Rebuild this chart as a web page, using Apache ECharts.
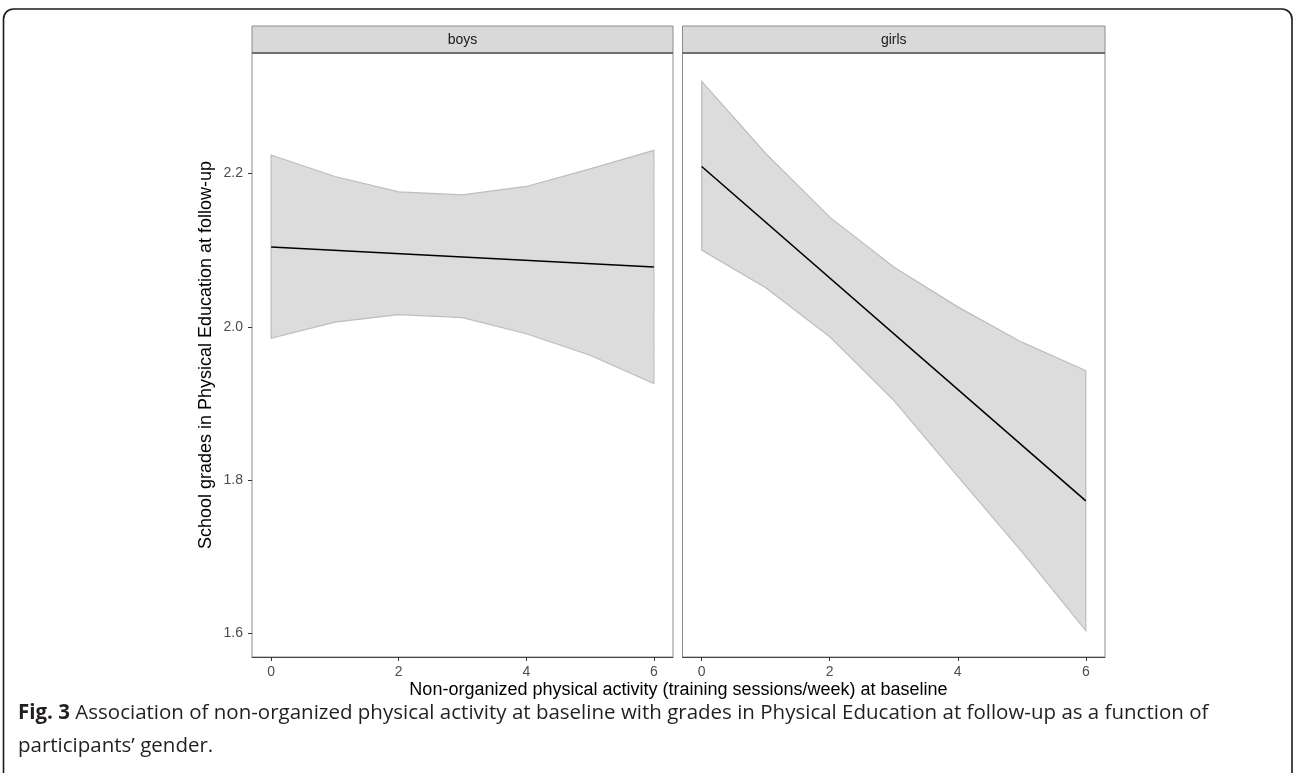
<!DOCTYPE html>
<html>
<head>
<meta charset="utf-8">
<script src="https://cdn.jsdelivr.net/npm/echarts@6/dist/echarts.min.js"></script>
<style>
html,body{margin:0;padding:0;background:#fff;}
#c{width:1296px;height:773px;}
</style>
</head>
<body>
<div id="c"></div>
<script>
// ---- data ----
const panels = ['boys', 'girls'];
const bandX = [0, 1, 2, 3, 4, 5, 6];
const boysUpper = [2.224, 2.196, 2.176, 2.172, 2.183, 2.206, 2.230];
const boysLower = [1.985, 2.006, 2.016, 2.012, 1.991, 1.963, 1.926];
const girlsUpper = [2.320, 2.226, 2.143, 2.078, 2.026, 1.980, 1.943];
const girlsLower = [2.100, 2.051, 1.987, 1.904, 1.805, 1.707, 1.604];
const lineX = [0, 6];
const boysLine = [2.104, 2.078];
const girlsLine = [2.209, 1.773];
const xTicks = [0, 2, 4, 6];
const yTicks = [1.6, 1.8, 2.0, 2.2];
const xTitle = 'Non-organized physical activity (training sessions/week) at baseline';
const yTitle = 'School grades in Physical Education at follow-up';
const captionBold = 'Fig. 3';
const captionRest = ' Association of non-organized physical activity at baseline with grades in Physical Education at follow-up as a function of';
const captionLine2 = 'participants\u2019 gender.';

// ---- layout ----
const gridTop = 53, gridBottomPx = 657;
const grids = [
  { left: 252, right: 673 },
  { left: 682.5, right: 1105 }
];
const FONT = '"Liberation Sans", Arial, sans-serif';
const CAPFONT = '"Open Sans", sans-serif';

const chart = echarts.init(document.getElementById('c'), null, { renderer: 'canvas' });

const gridOpts = grids.map(g => ({
  left: g.left, width: g.right - g.left, top: gridTop, height: gridBottomPx - gridTop,
  show: true, borderColor: '#8c8c8c', borderWidth: 1, backgroundColor: '#fff', containLabel: false
}));

const xAxes = grids.map((g, i) => ({
  type: 'value', gridIndex: i, min: -0.3, max: 6.3,
  splitLine: { show: false },
  axisLine: { show: true, onZero: false, lineStyle: { color: '#444', width: 1 } },
  axisTick: { show: true, customValues: xTicks, length: 4, lineStyle: { color: '#333' } },
  axisLabel: { show: true, customValues: xTicks, margin: 8, color: '#4d4d4d', fontSize: 14, fontFamily: FONT }
}));

const yAxes = grids.map((g, i) => ({
  type: 'value', gridIndex: i, min: 1.5695, max: 2.357, position: 'left',
  splitLine: { show: false },
  axisLine: { show: false, onZero: false },
  axisTick: { show: i === 0, customValues: yTicks, length: 4, lineStyle: { color: '#333' } },
  axisLabel: { show: i === 0, customValues: yTicks, margin: 9, color: '#4d4d4d', fontSize: 14, fontFamily: FONT,
    formatter: v => v.toFixed(1) }
}));

function bandSeries(idx, upper, lower) {
  return {
    type: 'custom', xAxisIndex: idx, yAxisIndex: idx, silent: true, z: 2,
    data: [[bandX[0], upper[0]]],
    renderItem: function (params, api) {
      const pts = [];
      for (let k = 0; k < bandX.length; k++) pts.push(api.coord([bandX[k], upper[k]]));
      for (let k = bandX.length - 1; k >= 0; k--) pts.push(api.coord([bandX[k], lower[k]]));
      return { type: 'polygon', shape: { points: pts },
        style: { fill: '#dcdcdc', stroke: '#bdbdbd', lineWidth: 1.2 } };
    }
  };
}
function lineSeries(idx, vals) {
  return {
    type: 'line', xAxisIndex: idx, yAxisIndex: idx, z: 3, silent: true,
    data: lineX.map((x, k) => [x, vals[k]]),
    showSymbol: false, symbol: 'none',
    lineStyle: { color: '#000', width: 1.6 }
  };
}

const graphics = [];
graphics.push({ type: 'rect', shape: { x: 3.5, y: 9, width: 1288.5, height: 790, r: 10 },
  style: { fill: 'none', stroke: '#1a1a1a', lineWidth: 1.6 }, z: 0, silent: true });
grids.forEach((g, i) => {
  graphics.push({ type: 'rect', shape: { x: g.left, y: 26, width: g.right - g.left, height: gridTop - 26 },
    style: { fill: '#d9d9d9', stroke: '#8c8c8c', lineWidth: 1 }, z: 10 });
  graphics.push({ type: 'line', shape: { x1: g.left, y1: gridTop, x2: g.right, y2: gridTop },
    style: { stroke: '#333', lineWidth: 1 }, z: 11 });
  graphics.push({ type: 'text', x: (g.left + g.right) / 2, y: (26 + gridTop) / 2 + 1,
    style: { text: panels[i], fill: '#1a1a1a', font: '14px ' + FONT, textAlign: 'center', textVerticalAlign: 'middle' }, z: 12 });
});
graphics.push({ type: 'text', x: (grids[0].left + grids[1].right) / 2, y: 690,
  style: { text: xTitle, fill: '#000', font: '18px ' + FONT, textAlign: 'center', textVerticalAlign: 'middle' }, z: 12 });
graphics.push({ type: 'text', x: 206, y: (gridTop + gridBottomPx) / 2, rotation: Math.PI / 2,
  style: { text: yTitle, fill: '#000', font: '18px ' + FONT, textAlign: 'center', textVerticalAlign: 'middle' }, z: 12 });
graphics.push({ type: 'text', x: 18, y: 713,
  style: { text: '{b|' + captionBold + '}{r|' + captionRest + '}', fill: '#231f20', font: '20.5px ' + CAPFONT,
    textVerticalAlign: 'middle',
    rich: {
      b: { fontWeight: 'bold', fontSize: 20.5, fontFamily: CAPFONT, fill: '#231f20' },
      r: { fontSize: 20.5, fontFamily: CAPFONT, fill: '#231f20' }
    } }, z: 12 });
graphics.push({ type: 'text', x: 18, y: 746,
  style: { text: captionLine2, fill: '#231f20', font: '20.5px ' + CAPFONT, textVerticalAlign: 'middle' }, z: 12 });

chart.setOption({
  animation: false,
  backgroundColor: '#fff',
  grid: gridOpts,
  xAxis: xAxes,
  yAxis: yAxes,
  series: [
    bandSeries(0, boysUpper, boysLower),
    lineSeries(0, boysLine),
    bandSeries(1, girlsUpper, girlsLower),
    lineSeries(1, girlsLine)
  ],
  graphic: { elements: graphics }
});
</script>
</body>
</html>
